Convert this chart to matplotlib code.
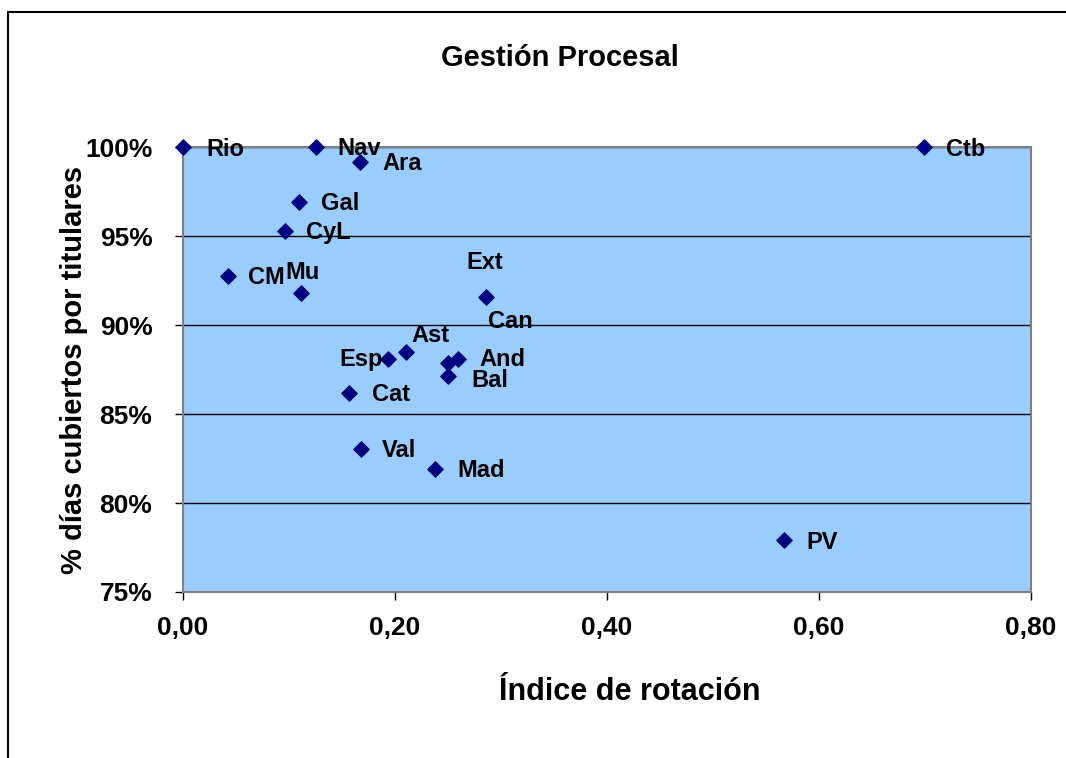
import matplotlib
matplotlib.use("Agg")
from matplotlib import pyplot as plt
from matplotlib.patches import Rectangle
from matplotlib.ticker import FuncFormatter, MultipleLocator

plt.rcParams['font.family'] = ['Liberation Sans', 'DejaVu Sans']
plt.rcParams['font.weight'] = 'bold'

# Comunidades: indice de rotacion y % dias cubiertos por titulares
regiones = ['Rio', 'Nav', 'Ara', 'Gal', 'CyL', 'CM', 'Mu', 'Ext', 'Can',
            'Ast', 'Esp', 'And', 'Bal', 'Cat', 'Val', 'Mad', 'PV', 'Ctb']
rotacion = [0.000, 0.125, 0.167, 0.109, 0.096, 0.042, 0.111, 0.286, 0.250,
            0.210, 0.193, 0.259, 0.250, 0.157, 0.168, 0.238, 0.567, 0.699]
cubiertos = [1.000, 1.000, 0.9916, 0.969, 0.9528, 0.9275, 0.918, 0.9157, 0.8784,
             0.8848, 0.8809, 0.8809, 0.8713, 0.8618, 0.8303, 0.8193, 0.7792, 1.000]

# desplazamiento de cada etiqueta (en puntos) respecto al punto
offsets = {
    'Rio': (17, -2), 'Nav': (16, -1), 'Ara': (16, -1), 'Gal': (16, -1),
    'CyL': (15, -1), 'CM': (15, -1), 'Mu': (-11, 15), 'Ext': (-14, 25),
    'Can': (29, 30), 'Ast': (4, 12), 'Esp': (-35, 0), 'And': (16, 0),
    'Bal': (17, -3), 'Cat': (16, -1), 'Val': (15, -1), 'Mad': (16, -1),
    'PV': (16, -2), 'Ctb': (16, -2),
}

fig = plt.figure(figsize=(10.66, 7.58), dpi=100)
fig.patches.append(Rectangle((0.0075, -0.05), 1.1, 1.034, transform=fig.transFigure,
                             fill=False, edgecolor='black', linewidth=1.5))

ax = fig.add_axes([0.1717, 0.219, 0.7955, 0.587])
ax.set_facecolor('#99CCFF')
ax.scatter(rotacion, cubiertos, marker='D', s=60, color='#000080', zorder=3,
           clip_on=False)

for nombre, x, y in zip(regiones, rotacion, cubiertos):
    dx, dy = offsets[nombre]
    ax.annotate(nombre, (x, y), xytext=(dx, dy), textcoords='offset points',
                fontsize=17, fontweight='bold', va='center', ha='left', zorder=4)

ax.set_xlim(0, 0.8)
ax.set_ylim(0.75, 1.0)
ax.xaxis.set_major_locator(MultipleLocator(0.2))
ax.yaxis.set_major_locator(MultipleLocator(0.05))
ax.xaxis.set_major_formatter(FuncFormatter(lambda v, p: f"{v:.2f}".replace('.', ',')))
ax.yaxis.set_major_formatter(FuncFormatter(lambda v, p: f"{v * 100:.0f}%"))
ax.yaxis.grid(True, color='black', linewidth=1)
ax.set_axisbelow(True)

for s in ax.spines.values():
    s.set_color('#808080')
    s.set_linewidth(1.5)

ax.tick_params(axis='both', direction='out', length=6, color='black', width=1,
               labelsize=19)
ax.tick_params(axis='y', pad=16)
ax.tick_params(axis='x', pad=11)
for lab in ax.get_xticklabels() + ax.get_yticklabels():
    lab.set_fontweight('bold')

ax.set_xlabel('Índice de rotación', fontsize=22, fontweight='bold')
ax.xaxis.set_label_coords(0.527, -0.19)
ax.set_ylabel('% días cubiertos por titulares', fontsize=21, fontweight='bold')
ax.yaxis.set_label_coords(-0.112, 0.5)
fig.text(0.525, 0.923, 'Gestión Procesal', ha='center', va='center',
         fontsize=21, fontweight='bold')

fig.savefig('out.png', dpi=100)
